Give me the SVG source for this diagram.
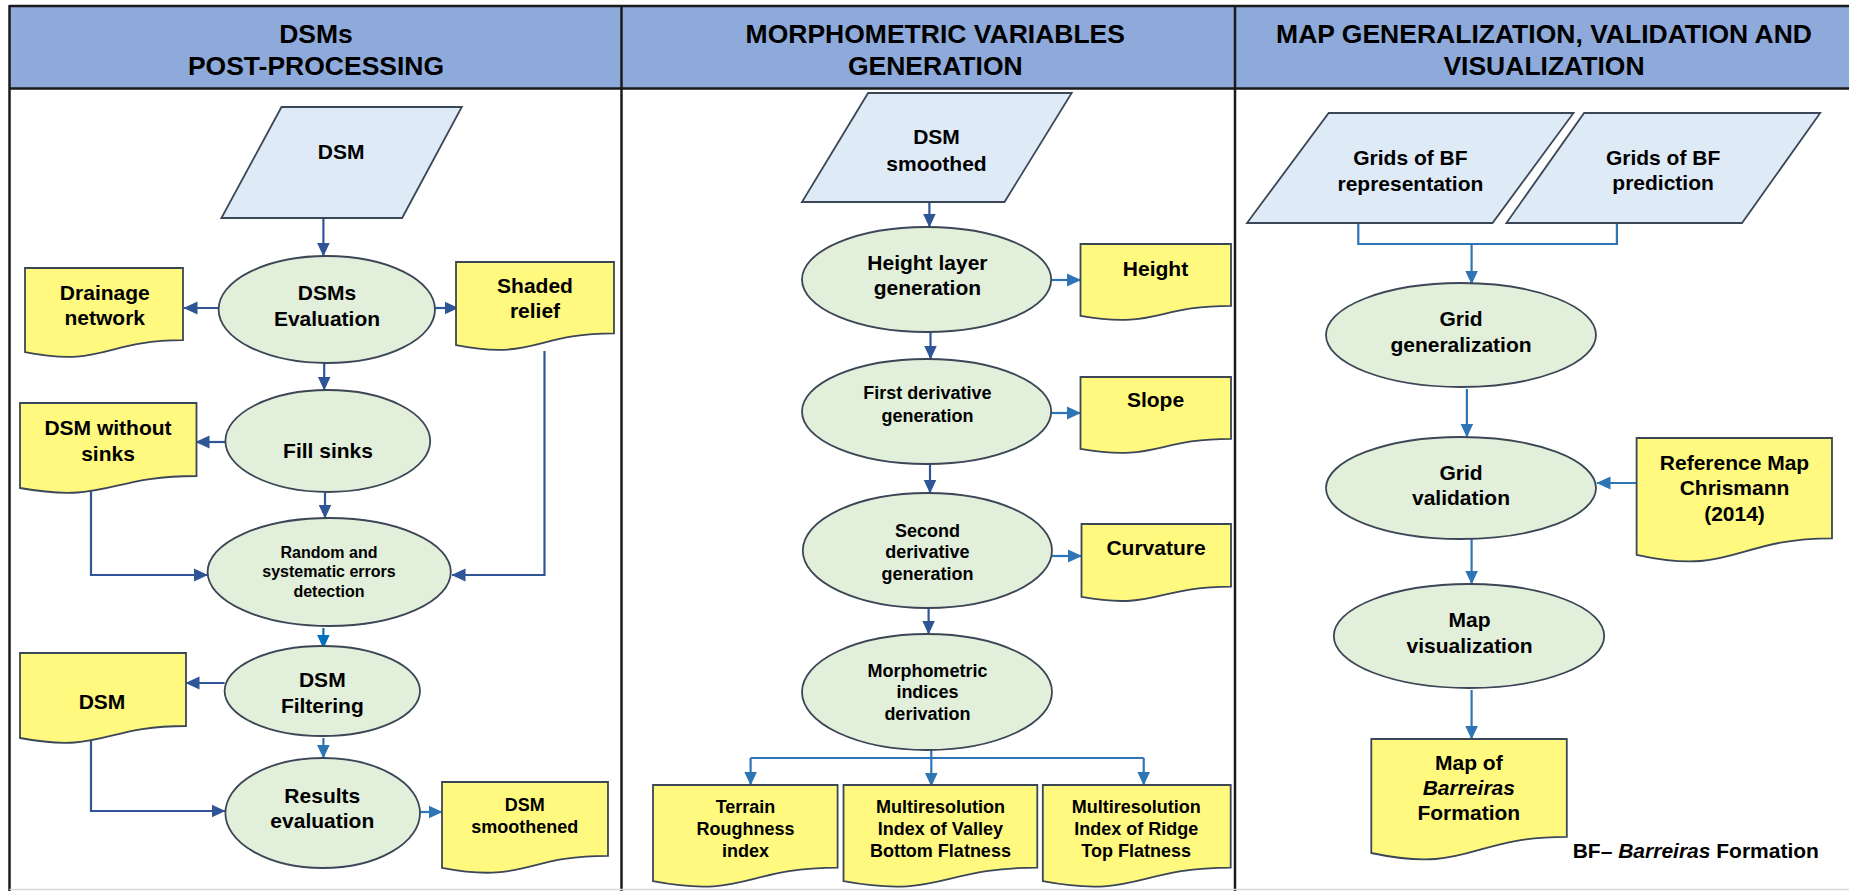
<svg xmlns="http://www.w3.org/2000/svg" width="1849" height="891" viewBox="0 0 1849 891">
<style>
text{font-family:"Liberation Sans",Arial,sans-serif;font-weight:bold;fill:#000;text-anchor:middle}
.hd{font-size:26.5px}
.t21{font-size:21px}
.t18{font-size:18px}
.t16{font-size:16px}
.par{fill:#deebf7;stroke:#3b4656;stroke-width:1.8}
.ell{fill:#e2efda;stroke:#3b4656;stroke-width:1.8}
.doc{fill:#fff980;stroke:#3b4656;stroke-width:1.8}
.frame{stroke:#1a1a1a;stroke-width:2.5;fill:none}
.cd{stroke:#2f5597;stroke-width:2.2;fill:none}
.cl{stroke:#2e75b6;stroke-width:2.2;fill:none}
.cb{stroke:#0070c0;stroke-width:2.2;fill:none}
.cd.m{marker-end:url(#md)}
.cl.m{marker-end:url(#ml)}
.cb.m{marker-end:url(#mb)}
</style>
<defs>
<marker id="md" markerUnits="userSpaceOnUse" markerWidth="14" markerHeight="14" refX="13.5" refY="7" orient="auto"><path d="M0,0.5 L14,7 L0,13.5 Z" fill="#2f5597"/></marker>
<marker id="ml" markerUnits="userSpaceOnUse" markerWidth="14" markerHeight="14" refX="13.5" refY="7" orient="auto"><path d="M0,0.5 L14,7 L0,13.5 Z" fill="#2e75b6"/></marker>
<marker id="mb" markerUnits="userSpaceOnUse" markerWidth="14" markerHeight="14" refX="13.5" refY="7" orient="auto"><path d="M0,0.5 L14,7 L0,13.5 Z" fill="#0070c0"/></marker>
</defs>
<rect x="0" y="0" width="1849" height="891" fill="#fff"/>
<g id="frame">
<rect x="9.5" y="6" width="1840" height="82.5" fill="#8eaadb"/>
<line class="frame" x1="9.5" y1="6" x2="1849" y2="6"/>
<line class="frame" x1="9.5" y1="88.5" x2="1849" y2="88.5"/>
<line class="frame" x1="9.5" y1="5" x2="9.5" y2="891"/>
<line class="frame" x1="621.5" y1="5" x2="621.5" y2="891"/>
<line class="frame" x1="1235" y1="5" x2="1235" y2="891"/>
<line x1="9.5" y1="889.5" x2="1849" y2="889.5" stroke="#d8d8d8" stroke-width="1.5"/>
<text class="hd" x="316" y="42.7">DSMs</text>
<text class="hd" x="316" y="75">POST-PROCESSING</text>
<text class="hd" x="935.3" y="42.7">MORPHOMETRIC VARIABLES</text>
<text class="hd" x="935.3" y="75">GENERATION</text>
<text class="hd" x="1544" y="42.7">MAP GENERALIZATION, VALIDATION AND</text>
<text class="hd" x="1544" y="75">VISUALIZATION</text>
</g>

<g id="connectors">
<path class="cd m" d="M323.4,218 V256"/>
<path class="cd m" d="M219,308 H184"/>
<path class="cd m" d="M435,308 H458"/>
<path class="cd m" d="M544.5,351 V575 H452"/>
<path class="cd m" d="M324.2,363 V390"/>
<path class="cd m" d="M225.4,442 H196"/>
<path class="cd m" d="M91,489 V575 H207.5"/>
<path class="cd m" d="M325,493 V518"/>
<path class="cb m" d="M323.4,628 V648"/>
<path class="cd m" d="M224.6,683 H186"/>
<path class="cl m" d="M323.4,738 V758"/>
<path class="cd m" d="M91,739 V811 H225"/>
<path class="cl m" d="M420,812 H442"/>

<path class="cd m" d="M929.4,202 V227"/>
<path class="cl m" d="M1051,280 H1080.5"/>
<path class="cd m" d="M930.5,332 V359"/>
<path class="cl m" d="M1051,413 H1080.5"/>
<path class="cd m" d="M930,464 V493"/>
<path class="cl m" d="M1052,556 H1081.5"/>
<path class="cd m" d="M928.6,608 V634"/>
<path class="cl" d="M931.3,750 V758 M750.6,758 H1143.7"/>
<path class="cl m" d="M750.6,758 V785"/>
<path class="cl m" d="M931.3,758 V786"/>
<path class="cl m" d="M1143.7,758 V785"/>

<path class="cl" d="M1358.3,223 V244 H1616.9 V223"/>
<path class="cl m" d="M1471.6,244 V284"/>
<path class="cl m" d="M1466.9,389 V437"/>
<path class="cl m" d="M1636.6,483 H1597"/>
<path class="cl m" d="M1471.6,539 V584"/>
<path class="cl m" d="M1471.6,690 V739"/>
</g>

<g id="n-dsm">
<polygon class="par" points="281.5,107 461.8,107 402.1,218 221.4,218"/>
<text class="t21" x="341.2" y="159">DSM</text>
</g>
<g id="n-dsms-eval">
<ellipse class="ell" cx="326.8" cy="309.5" rx="108.2" ry="53.5"/>
<text class="t21" x="327" y="300">DSMs</text>
<text class="t21" x="327" y="326">Evaluation</text>
</g>
<g id="n-drainage">
<path class="doc" d="M25,268 H183 V340.2 C104,340.2 104,367.6 25,352.1 Z"/>
<text class="t21" x="104.8" y="300">Drainage</text>
<text class="t21" x="104.8" y="325">network</text>
</g>
<g id="n-shaded">
<path class="doc" d="M456,262 H614 V333.4 C535,333.4 535,360.5 456,345.1 Z"/>
<text class="t21" x="535" y="293">Shaded</text>
<text class="t21" x="535" y="318">relief</text>
</g>
<g id="n-fill">
<ellipse class="ell" cx="327.8" cy="441" rx="102.4" ry="51"/>
<text class="t21" x="328" y="458">Fill sinks</text>
</g>
<g id="n-dsm-nosinks">
<path class="doc" d="M20,403 H196.5 V476 C108,476 108,503.7 20,488 Z"/>
<text class="t21" x="108" y="435">DSM without</text>
<text class="t21" x="108" y="461">sinks</text>
</g>
<g id="n-random">
<ellipse class="ell" cx="329.2" cy="572" rx="121.6" ry="54"/>
<text class="t16" x="329" y="558">Random and</text>
<text class="t16" x="329" y="577">systematic errors</text>
<text class="t16" x="329" y="597">detection</text>
</g>
<g id="n-filtering">
<ellipse class="ell" cx="322.3" cy="691" rx="97.7" ry="45"/>
<text class="t21" x="322.3" y="687">DSM</text>
<text class="t21" x="322.3" y="713">Filtering</text>
</g>
<g id="n-dsm-doc">
<path class="doc" d="M20,653 H186 V726 C103,726 103,753.7 20,738 Z"/>
<text class="t21" x="102" y="709">DSM</text>
</g>
<g id="n-results">
<ellipse class="ell" cx="322.7" cy="813" rx="97.3" ry="55"/>
<text class="t21" x="322.3" y="803">Results</text>
<text class="t21" x="322.3" y="828">evaluation</text>
</g>
<g id="n-smoothened">
<path class="doc" d="M442,782 H608 V855.8 C525,855.8 525,883.8 442,867.9 Z"/>
<text class="t18" x="524.7" y="811">DSM</text>
<text class="t18" x="524.7" y="833">smoothened</text>
</g>

<g id="n-dsm-smoothed">
<polygon class="par" points="868.1,93 1071.7,93 1004.5,202 802,202"/>
<text class="t21" x="936.5" y="144">DSM</text>
<text class="t21" x="936.5" y="171">smoothed</text>
</g>
<g id="n-height-layer">
<ellipse class="ell" cx="926.6" cy="279.5" rx="124.6" ry="52.5"/>
<text class="t21" x="927.4" y="270">Height layer</text>
<text class="t21" x="927.4" y="295">generation</text>
</g>
<g id="n-height">
<path class="doc" d="M1080.5,244 H1231 V305.8 C1155.5,305.8 1155.5,329.2 1080.5,315.9 Z"/>
<text class="t21" x="1155.5" y="276">Height</text>
</g>
<g id="n-first">
<ellipse class="ell" cx="926.6" cy="411.5" rx="124.6" ry="52.5"/>
<text class="t18" x="927.4" y="399">First derivative</text>
<text class="t18" x="927.4" y="422">generation</text>
</g>
<g id="n-slope">
<path class="doc" d="M1080.5,377 H1231 V438.8 C1155.5,438.8 1155.5,462.2 1080.5,448.9 Z"/>
<text class="t21" x="1155.5" y="407">Slope</text>
</g>
<g id="n-second">
<ellipse class="ell" cx="927.4" cy="550.5" rx="124.6" ry="57.5"/>
<text class="t18" x="927.4" y="537">Second</text>
<text class="t18" x="927.4" y="558">derivative</text>
<text class="t18" x="927.4" y="580">generation</text>
</g>
<g id="n-curvature">
<path class="doc" d="M1081.5,524 H1231 V586.6 C1156,586.6 1156,610.3 1081.5,596.9 Z"/>
<text class="t21" x="1156" y="555">Curvature</text>
</g>
<g id="n-morph">
<ellipse class="ell" cx="927" cy="692" rx="125" ry="58"/>
<text class="t18" x="927.4" y="677">Morphometric</text>
<text class="t18" x="927.4" y="698">indices</text>
<text class="t18" x="927.4" y="720">derivation</text>
</g>
<g id="n-tri">
<path class="doc" d="M653,785 H837.6 V867.6 C745.3,867.6 745.3,899 653,881.2 Z"/>
<text class="t18" x="745.5" y="813">Terrain</text>
<text class="t18" x="745.5" y="835">Roughness</text>
<text class="t18" x="745.5" y="857">index</text>
</g>
<g id="n-mrvbf">
<path class="doc" d="M843.5,785 H1037.3 V867.6 C940.4,867.6 940.4,899 843.5,881.2 Z"/>
<text class="t18" x="940.4" y="813">Multiresolution</text>
<text class="t18" x="940.4" y="835">Index of Valley</text>
<text class="t18" x="940.4" y="857">Bottom Flatness</text>
</g>
<g id="n-mrrtf">
<path class="doc" d="M1042.8,785 H1230.7 V867.6 C1136.8,867.6 1136.8,899 1042.8,881.2 Z"/>
<text class="t18" x="1136.2" y="813">Multiresolution</text>
<text class="t18" x="1136.2" y="835">Index of Ridge</text>
<text class="t18" x="1136.2" y="857">Top Flatness</text>
</g>

<g id="n-grids-rep">
<polygon class="par" points="1328.7,113 1573.5,113 1492.5,223 1247,223"/>
<text class="t21" x="1410.4" y="165">Grids of BF</text>
<text class="t21" x="1410.4" y="191">representation</text>
</g>
<g id="n-grids-pred">
<polygon class="par" points="1584.1,113 1820.2,113 1742,223 1506.4,223"/>
<text class="t21" x="1663.1" y="165">Grids of BF</text>
<text class="t21" x="1663.1" y="190">prediction</text>
</g>
<g id="n-grid-gen">
<ellipse class="ell" cx="1461" cy="335" rx="135" ry="52"/>
<text class="t21" x="1461" y="326">Grid</text>
<text class="t21" x="1461" y="352">generalization</text>
</g>
<g id="n-grid-val">
<ellipse class="ell" cx="1461" cy="488" rx="135" ry="51"/>
<text class="t21" x="1461" y="480">Grid</text>
<text class="t21" x="1461" y="505">validation</text>
</g>
<g id="n-refmap">
<path class="doc" d="M1636.6,438 H1832 V538.3 C1734.3,538.3 1734.3,576.4 1636.6,554.8 Z"/>
<text class="t21" x="1734.5" y="470">Reference Map</text>
<text class="t21" x="1734.5" y="495">Chrismann</text>
<text class="t21" x="1734.5" y="521">(2014)</text>
</g>
<g id="n-map-vis">
<ellipse class="ell" cx="1469" cy="636" rx="135.2" ry="52"/>
<text class="t21" x="1469.6" y="627">Map</text>
<text class="t21" x="1469.6" y="653">visualization</text>
</g>
<g id="n-map-bf">
<path class="doc" d="M1371.3,739 H1566.8 V836.8 C1469,836.8 1469,874 1371.3,853 Z"/>
<text class="t21" x="1468.8" y="770">Map of</text>
<text class="t21" x="1468.8" y="795" font-style="italic">Barreiras</text>
<text class="t21" x="1468.8" y="820">Formation</text>
</g>
<g id="legend">
<text class="t21" x="1572.7" y="858" style="text-anchor:start">BF– <tspan font-style="italic">Barreiras</tspan> Formation</text>
</g>
</svg>
